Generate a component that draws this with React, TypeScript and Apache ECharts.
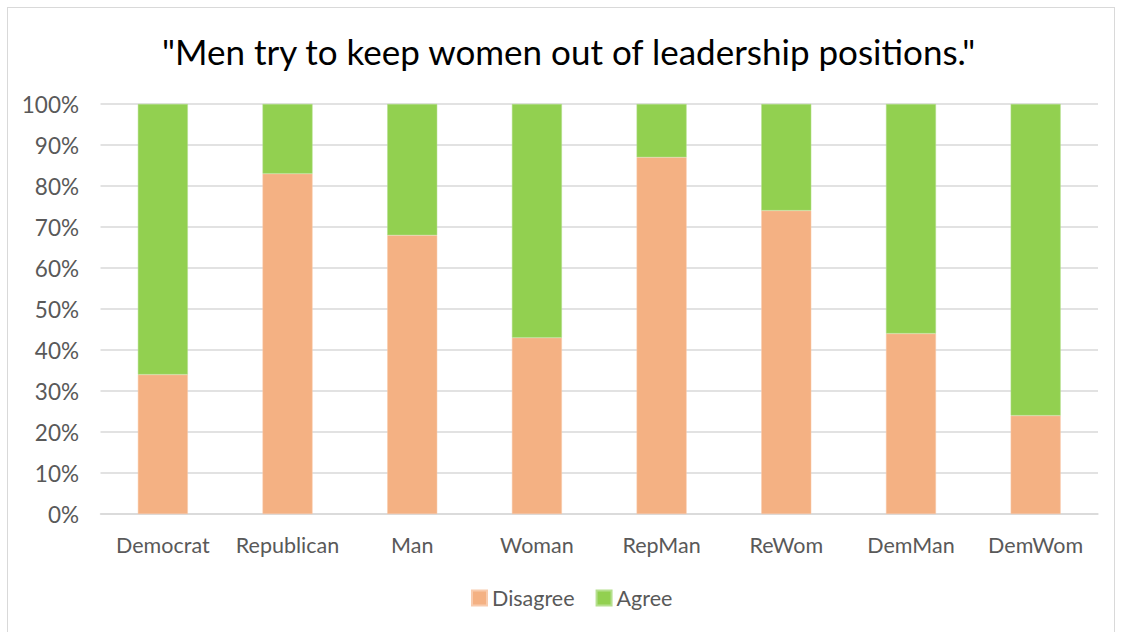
import React, { useEffect, useRef } from "react";
import * as echarts from "echarts";

const categories = ["Democrat", "Republican", "Man", "Woman", "RepMan", "ReWom", "DemMan", "DemWom"];
const disagree = [34, 83, 68, 43, 87, 74, 44, 24];
const agree = [66, 17, 32, 57, 13, 26, 56, 76];
const titleText = '"Men try to keep women out of leadership positions."';

export default function App() {
  const ref = useRef<HTMLDivElement>(null);
  useEffect(() => {
    const chart = echarts.init(ref.current!, null, { renderer: "svg" });
    const font = "Lato, 'Open Sans', sans-serif";
    chart.setOption({
      animation: false,
      backgroundColor: "#ffffff",
      title: {
        text: titleText,
        left: 149,
        top: 20,
        textStyle: { fontFamily: font, fontSize: 35, fontWeight: "normal", color: "#000000" },
      },
      legend: {
        bottom: 34,
        left: 458,
        itemWidth: 15,
        itemHeight: 15,
        itemGap: 21,
        itemTextGap: 6,
        icon: "rect",
        textStyle: { fontFamily: font, fontSize: 21.5, color: "#595959" },
        data: ["Disagree", "Agree"],
      },
      grid: { left: 92.5, right: 16, top: 96, bottom: 134 },
      xAxis: {
        type: "category",
        data: categories,
        axisLine: { lineStyle: { color: "#d9d9d9", width: 1.5 } },
        axisTick: { show: false },
        axisLabel: { interval: 0, fontFamily: font, fontSize: 21.5, color: "#595959", margin: 20 },
      },
      yAxis: {
        type: "value",
        min: 0,
        max: 100,
        interval: 10,
        axisLabel: { formatter: "{value}%", fontFamily: font, fontSize: 22.5, color: "#595959", margin: 21.5 },
        splitLine: { lineStyle: { color: "#d9d9d9", width: 1.5 } },
        axisLine: { show: false },
        axisTick: { show: false },
      },
      series: [
        {
          name: "Disagree",
          type: "bar",
          stack: "total",
          barWidth: 50,
          data: disagree,
          itemStyle: { color: "#F4B183", borderColor: "#F8CBAD", borderWidth: 0.5 },
        },
        {
          name: "Agree",
          type: "bar",
          stack: "total",
          barWidth: 50,
          data: agree,
          itemStyle: { color: "#92D050", borderColor: "#B5DF8E", borderWidth: 0.5 },
        },
      ],
    });
    return () => chart.dispose();
  }, []);
  return (
    <div style={{ position: "absolute", left: 7, top: 7, width: 1106, height: 640, border: "1px solid #d9d9d9", background: "#fff" }}>
      <div ref={ref} style={{ width: 1106, height: 640 }} />
    </div>
  );
}
